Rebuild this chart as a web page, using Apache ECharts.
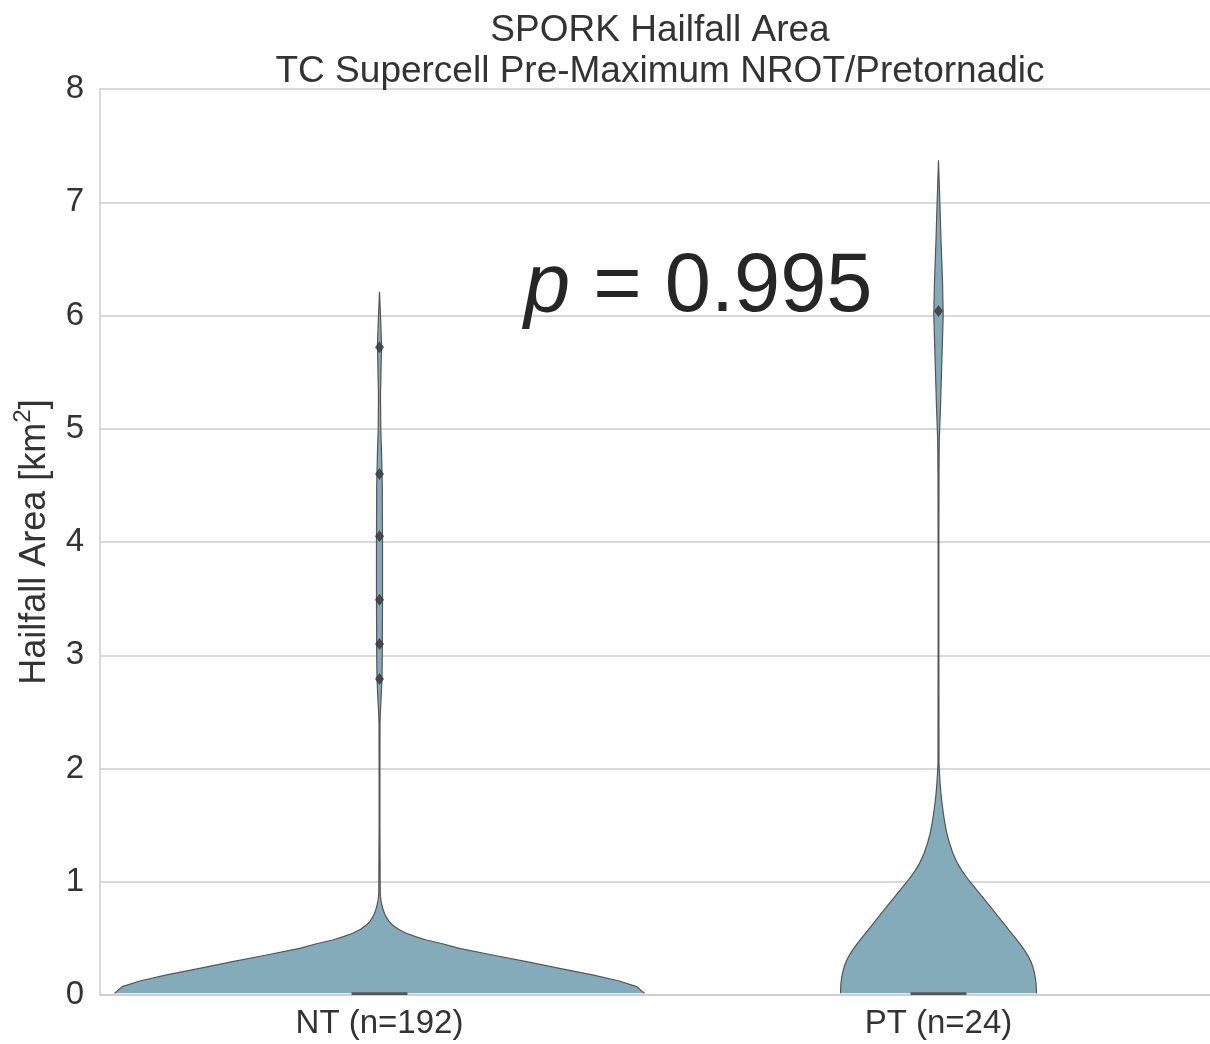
<!DOCTYPE html>
<html>
<head>
<meta charset="utf-8">
<script src="https://cdn.jsdelivr.net/npm/echarts@6/dist/echarts.min.js"></script>
<style>html,body{margin:0;padding:0;background:#fff}#main{width:1210px;height:1044px}</style>
</head>
<body>
<div id="main"></div>
<script>
// ---- data ----
const categories = ['NT (n=192)', 'PT (n=24)'];
const yTicks = [0, 1, 2, 3, 4, 5, 6, 7, 8];

// violin profiles: value (km^2) and half-width as fraction of one category slot
const ntY = [0.015, 0.03, 0.074, 0.124, 0.177, 0.235, 0.294, 0.353, 0.412, 0.45, 0.486, 0.515, 0.545, 0.58, 0.618, 0.65, 0.69, 0.72, 0.765, 0.80, 0.84, 0.9, 1.5, 2.0, 2.4, 2.5, 2.6, 2.8, 3.0, 3.5, 4.0, 4.5, 4.8, 5.0, 5.3, 5.5, 5.75, 6.0, 6.21];
const ntW = [0.474, 0.4705, 0.46, 0.429, 0.381, 0.322, 0.263, 0.202, 0.143, 0.1145, 0.084, 0.0644, 0.048, 0.034, 0.0233, 0.017, 0.012, 0.0089, 0.0059, 0.0041, 0.0023, 0.0013, 0.0007, 0.0007, 0.0009, 0.0016, 0.0027, 0.0045, 0.005, 0.0054, 0.0054, 0.005, 0.0036, 0.0023, 0.0018, 0.0027, 0.0036, 0.0018, 0];

const ptY = [0.015, 0.1, 0.15, 0.2, 0.25, 0.3, 0.35, 0.4, 0.45, 0.5, 0.6, 0.7, 0.8, 0.9, 1.0, 1.05, 1.1, 1.16, 1.25, 1.34, 1.43, 1.52, 1.6, 1.7, 1.78, 1.87, 1.96, 2.05, 3.0, 4.0, 4.6, 4.9, 5.2, 5.5, 6.0, 6.3, 6.66, 6.96, 7.2, 7.37];
const ptW = [0.1753, 0.1746, 0.1733, 0.1714, 0.1687, 0.1649, 0.1597, 0.1531, 0.146, 0.1381, 0.1218, 0.1055, 0.0894, 0.073, 0.0564, 0.0487, 0.0415, 0.0343, 0.0259, 0.0197, 0.0148, 0.0113, 0.0088, 0.0061, 0.0043, 0.0029, 0.0018, 0.0009, 0.0007, 0.0007, 0.0009, 0.0014, 0.0036, 0.0054, 0.0084, 0.0072, 0.0045, 0.0027, 0.0011, 0];

// inner box (quartile band, very thin near zero)
const boxLow = [0.0, 0.0];
const boxHigh = [0.025, 0.025];
const boxWidth = [0.1, 0.1];

// outlier points
const ntFliers = [2.79, 3.10, 3.49, 4.05, 4.60, 5.72];
const ptFliers = [6.04];

const pText = '0.995';

// ---- build ----
const profiles = [[ntY, ntW], [ptY, ptW]];
const FONT = '"Liberation Sans", Arial, sans-serif';
const TXT = '#333333';

const chart = echarts.init(document.getElementById('main'));

function renderViolin(params, api) {
  const i = params.dataIndex;
  const ys = profiles[i][0], ws = profiles[i][1];
  const slot = api.size([1, 0])[0];
  const left = [], right = [];
  for (let k = 0; k < ys.length; k++) {
    const c = api.coord([i, ys[k]]);
    left.push([c[0] - ws[k] * slot, c[1]]);
  }
  for (let k = ys.length - 1; k >= 0; k--) {
    const c = api.coord([i, ys[k]]);
    right.push([c[0] + ws[k] * slot, c[1]]);
  }
  const all = left.concat(right);
  const b0 = api.coord([i, boxLow[i]]);
  const b1 = api.coord([i, boxHigh[i]]);
  const bw = boxWidth[i] * slot;
  return {
    type: 'group',
    children: [
      { type: 'polygon', shape: { points: all }, style: { fill: '#83abb9', stroke: null } },
      { type: 'polyline', shape: { points: all }, style: { stroke: '#555555', lineWidth: 1.2, fill: null } },
      { type: 'rect', shape: { x: b0[0] - bw / 2, y: b1[1], width: bw, height: Math.max(b0[1] - b1[1], 1) },
        style: { fill: '#555555' } }
    ]
  };
}

const flierData = ntFliers.map(v => [0, v]).concat(ptFliers.map(v => [1, v]));

chart.setOption({
  animation: false,
  backgroundColor: '#ffffff',
  title: {
    text: 'SPORK Hailfall Area\nTC Supercell Pre-Maximum NROT/Pretornadic',
    left: 655, top: 5, textAlign: 'center',
    textStyle: { fontFamily: FONT, fontSize: 37, fontWeight: 'normal', color: TXT, lineHeight: 41 }
  },
  grid: { left: 100, top: 89, right: 0, height: 906 },
  xAxis: {
    type: 'value', min: -0.5, max: 1.4857,
    axisLine: { show: true, onZero: false, lineStyle: { color: '#cccccc', width: 1.5 } },
    axisTick: { show: false },
    axisLabel: { fontFamily: FONT, fontSize: 33, color: TXT, margin: 12,
      customValues: [0, 1], formatter: v => categories[Math.round(v)] || '' },
    splitLine: { show: false }
  },
  yAxis: {
    type: 'value', min: 0, max: 8, interval: 1,
    name: '{a|Hailfall Area [km}{s|2}{a|]}',
    nameLocation: 'middle', nameGap: 47, nameRotate: 90,
    nameTextStyle: {
      rich: {
        a: { fontFamily: FONT, fontSize: 36, color: TXT, lineHeight: 42, verticalAlign: 'bottom' },
        s: { fontFamily: FONT, fontSize: 24, color: TXT, lineHeight: 42, verticalAlign: 'top' }
      }
    },
    axisLine: { show: true, onZero: false, lineStyle: { color: '#cccccc', width: 1.5 } },
    axisTick: { show: false },
    axisLabel: { fontFamily: FONT, fontSize: 33, color: TXT, margin: 16,
      formatter: v => (yTicks.indexOf(v) >= 0 ? String(v) : '') },
    splitLine: { show: true, lineStyle: { color: '#cccccc', width: 1.5 } }
  },
  graphic: [{
    type: 'text', left: 524, top: 247, z: 100,
    style: {
      text: '{i|p}{n| = ' + pText + '}',
      rich: {
        i: { fontFamily: FONT, fontSize: 83, fontStyle: 'italic', fill: '#262626' },
        n: { fontFamily: FONT, fontSize: 83, fill: '#262626' }
      }
    }
  }],
  series: [
    { type: 'custom', data: categories.map((c, i) => [i, 0]), encode: { x: 0, y: 1 },
      renderItem: renderViolin, z: 2, clip: false },
    { type: 'scatter', data: flierData, symbol: 'diamond', symbolSize: [9, 12],
      itemStyle: { color: '#333333' }, z: 5 }
  ]
});
</script>
</body>
</html>
